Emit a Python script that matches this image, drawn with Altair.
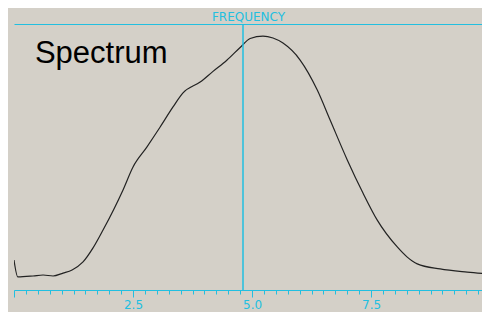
import altair as alt
import pandas as pd

# Spectrum curve
freq = [0.0, 0.08, 0.40, 0.61, 0.82, 1.03, 1.22, 1.45, 1.66, 1.87, 2.29, 2.5, 2.79,
        3.07, 3.34, 3.55, 3.91, 4.18, 4.47, 4.75, 4.96, 5.23, 5.44, 5.65, 6.01,
        6.37, 6.64, 7.0, 7.33, 7.63, 8.05, 8.26, 8.47, 8.95, 9.52, 10.0]
amp = [12.4, 5.4, 5.8, 6.2, 5.8, 7.0, 8.3, 11.6, 17.4, 24.8, 41.4, 50.9, 59.1,
       67.4, 75.7, 81.5, 86.0, 90.4, 95.0, 100.3, 104.0, 105.0, 104.2, 102.1, 95.1,
       82.7, 70.3, 53.8, 40.1, 28.9, 17.8, 13.6, 10.8, 8.7, 7.4, 6.6]

cursor = [4.81]
x_ticks = [i * 0.25 for i in range(40)]
y_ticks = [i * 5 for i in range(23)]
label_text = ["Spectrum"]
label_x = [0.44]
label_y = [93.9]

CYAN = "#22bfe0"

df = pd.DataFrame({"freq": freq, "amp": amp})
cur = pd.DataFrame({"freq": cursor})
lab = pd.DataFrame({"freq": label_x, "amp": label_y, "t": label_text})

xscale = alt.Scale(domain=[0, 9.83], nice=False, zero=False)
yscale = alt.Scale(domain=[0, 110], nice=False, zero=False)

line = alt.Chart(df).mark_line(color="#222222", strokeWidth=1.2, clip=True,
                               interpolate="monotone").encode(
    x=alt.X("freq:Q", scale=xscale, axis=alt.Axis(
        orient="bottom", values=x_ticks, title=None, grid=False,
        domainColor=CYAN, tickColor=CYAN, labelColor=CYAN,
        tickSize={"condition": {"test": "datum.value % 2.5 === 0", "value": 7}, "value": 4},
        labelExpr="(datum.value % 2.5 === 0 && datum.value > 0 && datum.value < 10) ? format(datum.value, '.1f') : ''",
        labelFont="DejaVu Sans", labelFontSize=12, labelPadding=2, labelFlush=False,
        labelOverlap=False)),
    y=alt.Y("amp:Q", scale=yscale, axis=alt.Axis(
        orient="left", values=y_ticks, title=None, grid=False, labels=False,
        domainColor=CYAN, tickColor=CYAN, tickSize=5)),
)

rule = alt.Chart(cur).mark_rule(color=CYAN, strokeWidth=1.5).encode(
    x=alt.X("freq:Q", scale=xscale, axis=alt.Axis(
        orient="top", title="FREQUENCY", ticks=False, labels=False, grid=False,
        domainColor=CYAN, titleColor=CYAN, titleFont="DejaVu Sans",
        titleFontSize=12, titleFontWeight="normal", titlePadding=1)),
)

text = alt.Chart(lab).mark_text(
    align="left", baseline="alphabetic", font="Liberation Sans", fontSize=31, color="#000000"
).encode(
    x=alt.X("freq:Q", scale=xscale, axis=None),
    y=alt.Y("amp:Q", scale=yscale, axis=None),
    text="t:N",
)

chart = alt.layer(line, rule, text).properties(
    width=468, height=266,
    padding={"left": 6, "top": 16, "right": 0, "bottom": 22},
    autosize=alt.AutoSizeParams(type="none"),
    background="#d4d0c8",
).configure_view(stroke=None)

chart.save("out.html", embed_options={"renderer": "svg", "actions": False})
